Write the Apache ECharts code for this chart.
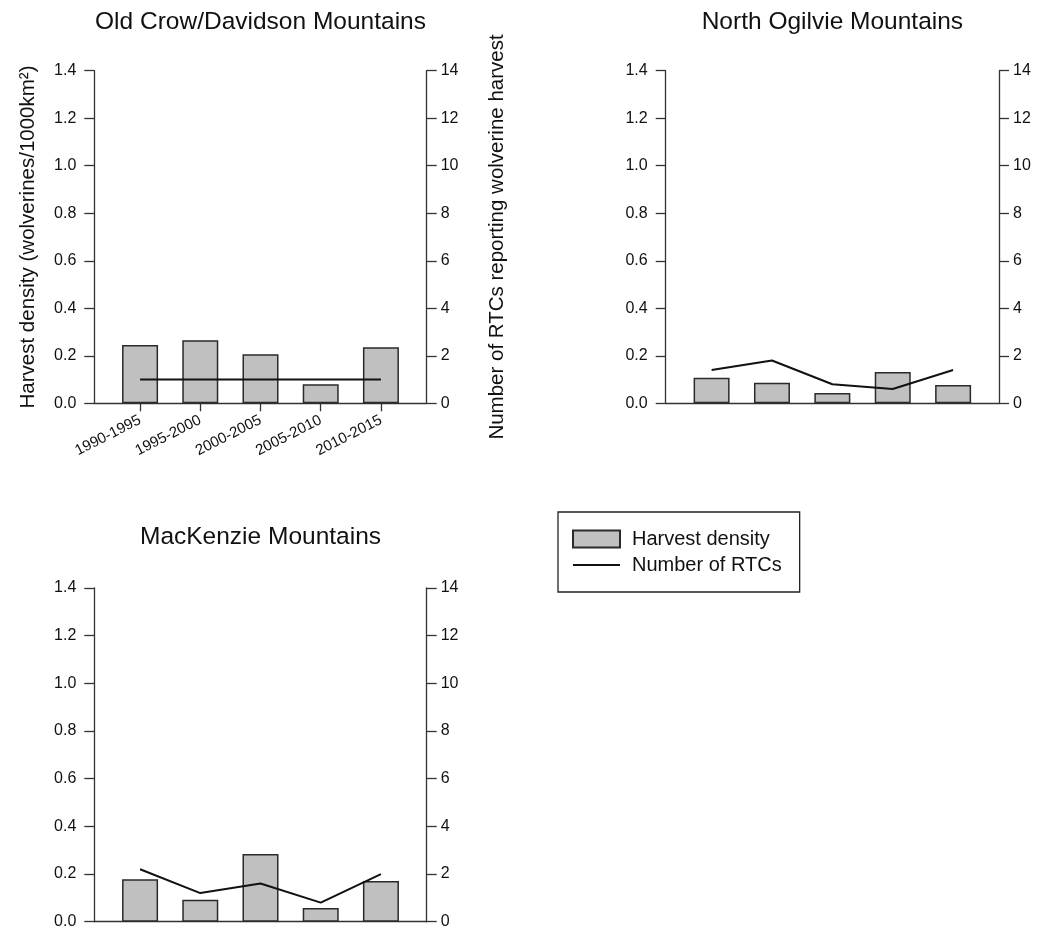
<!DOCTYPE html>
<html>
<head>
<meta charset="utf-8">
<script src="https://cdn.jsdelivr.net/npm/echarts@6/dist/echarts.min.js"></script>
<style>
html,body{margin:0;padding:0;background:#fff;}
#chart{width:1039px;height:932px;}
</style>
</head>
<body>
<div id="chart"></div>
<script>
// ---- data ----
const periods = ['1990-1995', '1995-2000', '2000-2005', '2005-2010', '2010-2015'];
const panelTitles = ['Old Crow/Davidson Mountains', 'North Ogilvie Mountains', 'MacKenzie Mountains'];
const oldCrowDensity = [0.245, 0.265, 0.206, 0.080, 0.236];
const oldCrowRTCs = [1, 1, 1, 1, 1];
const northOgilvieDensity = [0.108, 0.087, 0.043, 0.132, 0.077];
const northOgilvieRTCs = [1.4, 1.8, 0.8, 0.6, 1.4];
const mackenzieDensity = [0.178, 0.092, 0.284, 0.057, 0.171];
const mackenzieRTCs = [2.2, 1.2, 1.6, 0.8, 2.0];
const densityAxis = { min: 0, max: 1.4, interval: 0.2 };
const rtcAxis = { min: 0, max: 14, interval: 2 };
const leftAxisName = 'Harvest density (wolverines/1000km\u00B2)';
const rightAxisName = 'Number of RTCs reporting wolverine harvest';
const seriesNames = ['Harvest density', 'Number of RTCs'];

// ---- styling / layout ----
const FONT = '"Liberation Sans", Arial, Helvetica, sans-serif';
const AX = '#333';
const grids = [
  { left: 94.3, top: 70.7, width: 332.4, height: 332.6 },
  { left: 665.7, top: 70.7, width: 333.3, height: 332.6 },
  { left: 94.3, top: 588, width: 332.4, height: 333.7 }
];
const titlePos = [
  { x: 260.5, y: 10 },
  { x: 832.4, y: 10 },
  { x: 260.5, y: 525 }
];
const densities = [oldCrowDensity, northOgilvieDensity, mackenzieDensity];
const rtcs = [oldCrowRTCs, northOgilvieRTCs, mackenzieRTCs];
const idx = periods.map((p, i) => i);

const option = {
  backgroundColor: '#fff',
  animation: false,
  textStyle: { fontFamily: FONT },
  title: panelTitles.map((t, i) => ({
    text: t,
    left: titlePos[i].x,
    top: titlePos[i].y,
    textAlign: 'center',
    padding: 0,
    textStyle: { fontFamily: FONT, fontSize: 24.5, fontWeight: 'normal', color: '#111' }
  })),
  legend: {
    orient: 'vertical',
    left: 558,
    top: 512,
    symbolKeepAspect: true,
    data: [
      { name: seriesNames[0], icon: 'rect' },
      { name: seriesNames[1], icon: 'path://M0,0H47V2H0Z' }
    ],
    itemWidth: 47,
    itemHeight: 17,
    itemGap: 6,
    padding: [17, 18, 17, 14],
    borderColor: '#222',
    borderWidth: 1.3,
    textStyle: { fontFamily: FONT, fontSize: 20, color: '#111', padding: [0, 0, 0, 7] }
  },
  grid: grids.map(g => Object.assign({ containLabel: false }, g)),
  xAxis: grids.map((g, i) => ({
    type: 'value',
    gridIndex: i,
    min: -0.76,
    max: 4.76,
    splitLine: { show: false },
    axisLine: { show: true, onZero: false, lineStyle: { color: AX, width: 1.3 } },
    axisTick: i === 0 ? { show: true, customValues: idx, length: 8, lineStyle: { color: AX, width: 1.3 } } : { show: false },
    axisLabel: i === 0 ? {
      show: true, customValues: idx, rotate: 27, margin: 16,
      fontFamily: FONT, fontSize: 15, color: '#111',
      formatter: v => periods[Math.round(v)]
    } : { show: false }
  })),
  yAxis: [].concat(...grids.map((g, i) => [
    {
      type: 'value', gridIndex: i, position: 'left',
      min: densityAxis.min, max: densityAxis.max, interval: densityAxis.interval,
      name: i === 0 ? leftAxisName : '',
      nameLocation: 'middle', nameRotate: 90, nameGap: 55,
      nameTextStyle: { fontFamily: FONT, fontSize: 20.5, color: '#111' },
      splitLine: { show: false },
      axisLine: { show: true, onZero: false, lineStyle: { color: AX, width: 1.3 } },
      axisTick: { show: true, length: 10, lineStyle: { color: AX, width: 1.3 } },
      axisLabel: { fontFamily: FONT, fontSize: 16, color: '#111', margin: 18, formatter: v => v.toFixed(1) }
    },
    {
      type: 'value', gridIndex: i, position: 'right',
      min: rtcAxis.min, max: rtcAxis.max, interval: rtcAxis.interval,
      name: i === 0 ? rightAxisName : '',
      nameLocation: 'middle', nameRotate: 90, nameGap: 60,
      nameTextStyle: { fontFamily: FONT, fontSize: 20.5, color: '#111' },
      splitLine: { show: false },
      axisLine: { show: true, onZero: false, lineStyle: { color: AX, width: 1.3 } },
      axisTick: { show: true, length: 10, lineStyle: { color: AX, width: 1.3 } },
      axisLabel: { fontFamily: FONT, fontSize: 16, color: '#111', margin: 14 }
    }
  ])),
  series: [].concat(...grids.map((g, i) => [
    {
      name: seriesNames[0], type: 'bar',
      xAxisIndex: i, yAxisIndex: 2 * i,
      barWidth: 36,
      data: densities[i].map((v, k) => [k, v]),
      itemStyle: { color: '#c0c0c0', borderColor: '#2a2a2a', borderWidth: 1.5 },
      z: 2
    },
    {
      name: seriesNames[1], type: 'line',
      xAxisIndex: i, yAxisIndex: 2 * i + 1,
      symbol: 'none', showSymbol: false,
      data: rtcs[i].map((v, k) => [k, v]),
      lineStyle: { color: '#111', width: 2 },
      itemStyle: { color: '#111' },
      z: 5
    }
  ]))
};

const chart = echarts.init(document.getElementById('chart'), null, { renderer: 'canvas' });
chart.setOption(option);
</script>
</body>
</html>
